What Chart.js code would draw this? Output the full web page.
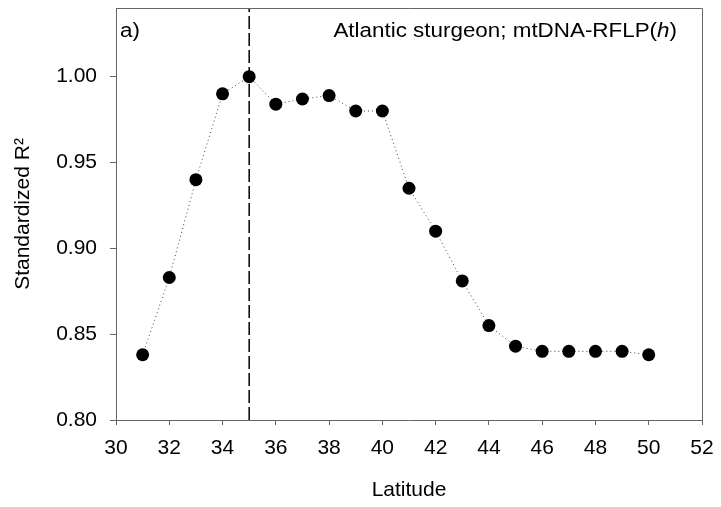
<!DOCTYPE html>
<html>
<head>
<meta charset="utf-8">
<script src="https://cdn.jsdelivr.net/npm/chart.js@4/dist/chart.umd.min.js"></script>
<style>
  html, body { margin: 0; padding: 0; background: #fff; }
  #wrap { width: 721px; height: 507px; }
</style>
</head>
<body>
<div id="wrap"><canvas id="latChart"></canvas></div>
<script>
const latitude = [31, 32, 33, 34, 35, 36, 37, 38, 39, 40, 41, 42, 43, 44, 45, 46, 47, 48, 49, 50];
const r2 = [0.838, 0.883, 0.940, 0.990, 1.000, 0.984, 0.987, 0.989, 0.980, 0.980,
            0.935, 0.910, 0.881, 0.855, 0.843, 0.840, 0.840, 0.840, 0.840, 0.838];
const xTicks = [30, 32, 34, 36, 38, 40, 42, 44, 46, 48, 50, 52];
const yTicks = [0.80, 0.85, 0.90, 0.95, 1.00];
const peakLat = 35;
const yRange = [0.80, 1.04];

const fontFam = '"Liberation Sans", Arial, sans-serif';
const axisGray = '#666';

// frame on top/right plus the panel labels (text a bit wide, like the original)
const framePlugin = {
    id: 'frame',
    afterDraw(chart) {
        const {ctx, chartArea: a} = chart;
        ctx.save();
        ctx.strokeStyle = axisGray;
        ctx.lineWidth = 1;
        ctx.beginPath();
        ctx.moveTo(a.left, a.top + 0.5);
        ctx.lineTo(a.right + 0.5, a.top + 0.5);
        ctx.lineTo(a.right + 0.5, a.bottom);
        ctx.stroke();

        const sx = 1.12;
        ctx.fillStyle = '#000';
        ctx.textBaseline = 'alphabetic';
        ctx.textAlign = 'left';
        ctx.font = '20px ' + fontFam;
        ctx.save();
        ctx.translate(a.left + 4, 37);
        ctx.scale(sx, 1);
        ctx.fillText('a)', 0, 0);
        ctx.restore();

        const parts = [['Atlantic sturgeon; mtDNA-RFLP(', ''], ['h', 'italic '], [')', '']];
        let total = 0;
        parts.forEach(p => {
            ctx.font = p[1] + '20px ' + fontFam;
            p.push(ctx.measureText(p[0]).width);
            total += p[2];
        });
        ctx.translate(677 - total * sx, 37);
        ctx.scale(sx, 1);
        let x = 0;
        parts.forEach(p => {
            ctx.font = p[1] + '20px ' + fontFam;
            ctx.fillText(p[0], x, 0);
            x += p[2];
        });
        ctx.restore();
    }
};

const ctx = document.getElementById('latChart').getContext('2d');
new Chart(ctx, {
    type: 'scatter',
    data: {
        datasets: [
            {
                label: 'Standardized R2',
                data: latitude.map((v, i) => ({x: v, y: r2[i]})),
                showLine: true,
                borderColor: '#444',
                borderWidth: 1,
                borderDash: [1, 3],
                pointRadius: 6.5,
                pointBackgroundColor: '#000',
                pointBorderColor: '#000',
                pointBorderWidth: 0
            },
            {
                label: 'peak',
                data: yRange.map(v => ({x: peakLat, y: v})),
                showLine: true,
                borderColor: '#000',
                borderWidth: 1.5,
                borderDash: [13, 4],
                pointRadius: 0
            }
        ]
    },
    options: {
        responsive: true,
        maintainAspectRatio: false,
        animation: false,
        layout: { padding: { left: 0, right: 19, top: 8, bottom: 0 } },
        plugins: {
            legend: { display: false },
            tooltip: { enabled: false }
        },
        scales: {
            x: {
                type: 'linear',
                min: 30,
                max: 52,
                afterBuildTicks: axis => { axis.ticks = xTicks.map(v => ({value: v})); },
                afterFit: axis => {
                    axis.height = 87;
                    axis.paddingLeft = 0;
                    axis.paddingRight = 0;
                },
                ticks: {
                    color: '#000',
                    font: { family: fontFam, size: 21 },
                    padding: 11,
                    maxRotation: 0,
                    autoSkip: false
                },
                grid: {
                    drawOnChartArea: false,
                    color: axisGray,
                    tickLength: 5
                },
                border: { color: axisGray },
                title: {
                    display: true,
                    text: 'Latitude',
                    color: '#000',
                    font: { family: fontFam, size: 21 },
                    padding: { top: 0, bottom: 4 }
                }
            },
            y: {
                min: yRange[0],
                max: yRange[1],
                afterBuildTicks: axis => { axis.ticks = yTicks.map(v => ({value: v})); },
                afterFit: axis => {
                    axis.width = 116;
                    axis.paddingTop = 0;
                    axis.paddingBottom = 0;
                },
                ticks: {
                    color: '#000',
                    font: { family: fontFam, size: 21 },
                    padding: 13,
                    callback: v => Number(v).toFixed(2)
                },
                grid: {
                    drawOnChartArea: false,
                    color: axisGray,
                    tickLength: 6
                },
                border: { color: axisGray },
                title: {
                    display: true,
                    text: 'Standardized R²',
                    color: '#000',
                    font: { family: fontFam, size: 21 },
                    padding: { top: 11, bottom: 0 }
                }
            }
        }
    },
    plugins: [framePlugin]
});
</script>
</body>
</html>
